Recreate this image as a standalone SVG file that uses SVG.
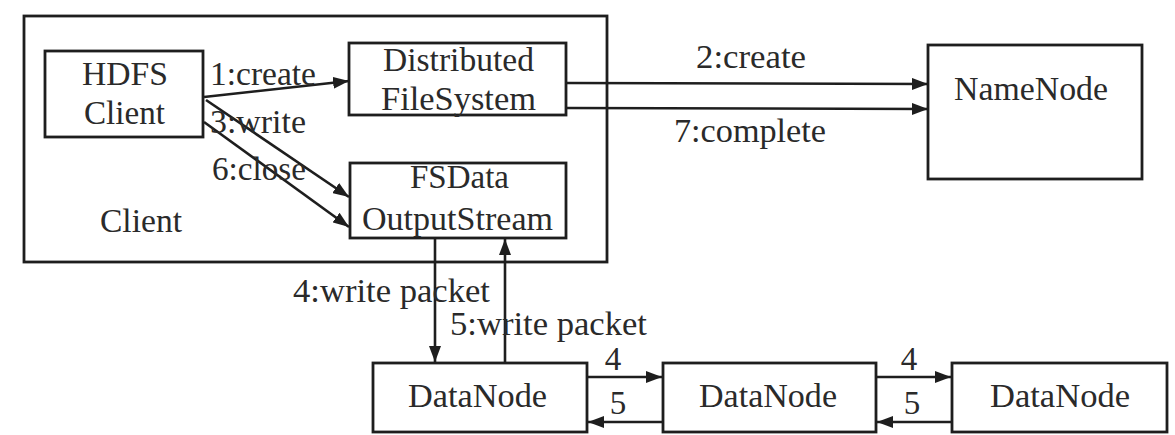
<svg xmlns="http://www.w3.org/2000/svg" width="1175" height="435" viewBox="0 0 1175 435">
<style>
.box{fill:none;stroke:#1e1e1e;stroke-width:2.8}
.t{font-family:"Liberation Serif","Times New Roman",serif;font-size:33px;fill:#2a2a2a}
.c{text-anchor:middle}
.ln{fill:none;stroke:#1e1e1e;stroke-width:2.6;marker-end:url(#ah)}
</style>
<defs>
<marker id="ah" viewBox="0 0 16 12" markerWidth="16" markerHeight="12" refX="16" refY="6" markerUnits="userSpaceOnUse" orient="auto">
<path d="M0,0 L16,6 L0,12 z" fill="#1e1e1e"/>
</marker>
</defs>
<rect width="1175" height="435" fill="#fff"/>
<g id="client-group">
<rect class="box" x="24" y="16" width="583" height="246"/>
<text class="t" x="100" y="232" textLength="82" lengthAdjust="spacingAndGlyphs">Client</text>
</g>
<g id="hdfs-client">
<rect class="box" x="45" y="51" width="158" height="86"/>
<text class="t" x="82" y="85" textLength="86" lengthAdjust="spacingAndGlyphs">HDFS</text>
<text class="t" x="84" y="124" textLength="81" lengthAdjust="spacingAndGlyphs">Client</text>
</g>
<g id="distributed-fs">
<rect class="box" x="349" y="43" width="217" height="72"/>
<text class="t" x="383" y="71" textLength="151" lengthAdjust="spacingAndGlyphs">Distributed</text>
<text class="t" x="381" y="110" textLength="155" lengthAdjust="spacingAndGlyphs">FileSystem</text>
</g>
<g id="fsdata-outputstream">
<rect class="box" x="350" y="163" width="216" height="75"/>
<text class="t" x="410" y="188" textLength="99" lengthAdjust="spacingAndGlyphs">FSData</text>
<text class="t" x="362" y="230" textLength="191" lengthAdjust="spacingAndGlyphs">OutputStream</text>
</g>
<g id="namenode">
<rect class="box" x="928" y="45" width="214" height="134"/>
<text class="t" x="954" y="100" textLength="154" lengthAdjust="spacingAndGlyphs">NameNode</text>
</g>
<g id="datanode1">
<rect class="box" x="373" y="363" width="214" height="69"/>
<text class="t" x="408" y="407" textLength="139" lengthAdjust="spacingAndGlyphs">DataNode</text>
</g>
<g id="datanode2">
<rect class="box" x="663" y="363" width="213" height="69"/>
<text class="t" x="699" y="407" textLength="138" lengthAdjust="spacingAndGlyphs">DataNode</text>
</g>
<g id="datanode3">
<rect class="box" x="952" y="363" width="215" height="69"/>
<text class="t" x="990" y="407" textLength="140" lengthAdjust="spacingAndGlyphs">DataNode</text>
</g>
<g id="connectors">
<line class="ln" x1="204" y1="97" x2="349" y2="81"/>
<line class="ln" x1="206" y1="100" x2="349" y2="197"/>
<line class="ln" x1="204" y1="122" x2="349" y2="227"/>
<line class="ln" x1="566" y1="83" x2="928" y2="84"/>
<line class="ln" x1="566" y1="108" x2="928" y2="109"/>
<line class="ln" x1="435" y1="238" x2="435" y2="362"/>
<line class="ln" x1="505" y1="363" x2="505" y2="239"/>
<line class="ln" x1="587" y1="377" x2="662" y2="377"/>
<line class="ln" x1="663" y1="422" x2="588" y2="422"/>
<line class="ln" x1="876" y1="377" x2="951" y2="377"/>
<line class="ln" x1="952" y1="422" x2="877" y2="422"/>
<text class="t" x="210" y="85" textLength="106" lengthAdjust="spacingAndGlyphs">1:create</text>
<text class="t" x="210" y="133" textLength="96" lengthAdjust="spacingAndGlyphs">3:write</text>
<text class="t" x="212" y="180" textLength="94" lengthAdjust="spacingAndGlyphs">6:close</text>
<text class="t" x="696" y="68" textLength="110" lengthAdjust="spacingAndGlyphs">2:create</text>
<text class="t" x="674" y="142" textLength="152" lengthAdjust="spacingAndGlyphs">7:complete</text>
<text class="t" x="293" y="302" textLength="197" lengthAdjust="spacingAndGlyphs">4:write packet</text>
<text class="t" x="450" y="335" textLength="197" lengthAdjust="spacingAndGlyphs">5:write packet</text>
<text class="t c" x="613" y="370">4</text>
<text class="t c" x="618" y="414">5</text>
<text class="t c" x="909" y="370">4</text>
<text class="t c" x="912" y="414">5</text>
</g>
</svg>
